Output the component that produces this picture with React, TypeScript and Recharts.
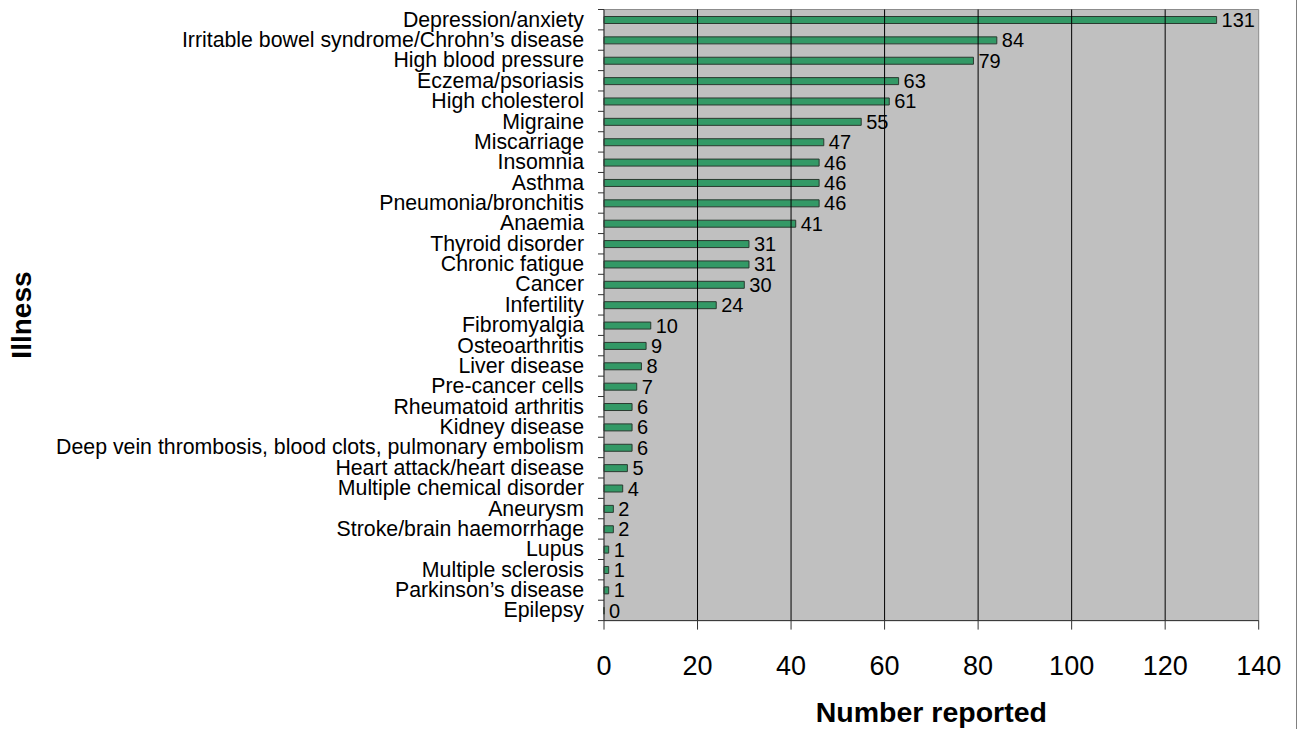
import React from "react"
import {
  BarChart,
  Bar,
  XAxis,
  YAxis,
  ReferenceArea,
  ReferenceLine,
  LabelList,
} from "recharts"

const illnesses = [
  "Depression/anxiety",
  "Irritable bowel syndrome/Chrohn\u2019s disease",
  "High blood pressure",
  "Eczema/psoriasis",
  "High cholesterol",
  "Migraine",
  "Miscarriage",
  "Insomnia",
  "Asthma",
  "Pneumonia/bronchitis",
  "Anaemia",
  "Thyroid disorder",
  "Chronic fatigue",
  "Cancer",
  "Infertility",
  "Fibromyalgia",
  "Osteoarthritis",
  "Liver disease",
  "Pre-cancer cells",
  "Rheumatoid arthritis",
  "Kidney disease",
  "Deep vein thrombosis, blood clots, pulmonary embolism",
  "Heart attack/heart disease",
  "Multiple chemical disorder",
  "Aneurysm",
  "Stroke/brain haemorrhage",
  "Lupus",
  "Multiple sclerosis",
  "Parkinson\u2019s disease",
  "Epilepsy",
]

const reported = [
  131, 84, 79, 63, 61, 55, 47, 46, 46, 46, 41, 31, 31, 30, 24, 10, 9, 8, 7, 6,
  6, 6, 5, 4, 2, 2, 1, 1, 1, 0,
]

const xTicks = [0, 20, 40, 60, 80, 100, 120, 140]

const data = illnesses.map((name, i) => ({ name, count: reported[i] }))

const W = 1299
const H = 729
const TOP = 9.5
const BOTTOM = 108.4
const FONT = '"Liberation Sans", Arial, sans-serif'
const band = (H - TOP - BOTTOM) / illnesses.length

function YTick(props: any) {
  const { x, y, payload, index } = props
  const axisX = x + 8
  return (
    <g>
      <text
        x={axisX - 20}
        y={y}
        dy={7}
        textAnchor="end"
        fontSize={21.3}
        fontFamily={FONT}
        fill="#000"
      >
        {payload.value}
      </text>
      <line x1={axisX - 6} x2={axisX} y1={y - band / 2} y2={y - band / 2} stroke="#333" />
      {index === illnesses.length - 1 && (
        <line x1={axisX - 6} x2={axisX} y1={y + band / 2} y2={y + band / 2} stroke="#333" />
      )}
    </g>
  )
}

function XTick(props: any) {
  const { x, y, payload } = props
  return (
    <text x={x} y={y + 43} textAnchor="middle" fontSize={27} fontFamily={FONT} fill="#000">
      {payload.value}
    </text>
  )
}

function YTitle(props: any) {
  const vb = props.viewBox || { x: 0, y: 0, height: 0 }
  const cx = 21
  const cy = vb.y + vb.height / 2
  return (
    <text
      x={cx}
      y={cy}
      dy={10}
      textAnchor="middle"
      transform={`rotate(-90, ${cx}, ${cy})`}
      fontSize={28}
      fontWeight="bold"
      fontFamily={FONT}
      fill="#000"
    >
      Illness
    </text>
  )
}

function ValueLabel(props: any) {
  const { x, y, width, height, value } = props
  const w = Number(width || 0) < 0.5 ? 0 : Number(width)
  return (
    <text
      x={Number(x) + w + 5}
      y={Number(y) + Number(height) / 2}
      dy={7}
      fontSize={20}
      fontFamily={FONT}
      fill="#000"
    >
      {value}
    </text>
  )
}

export default function App() {
  return (
    <div
      style={{
        position: "absolute",
        left: 0,
        top: 0,
        width: W,
        height: H,
        background: "#fff",
      }}
    >
      <div
        style={{
          position: "absolute",
          left: 1296,
          top: 0,
          width: 1,
          height: H,
          background: "#808080",
        }}
      />
      <BarChart
        width={W}
        height={H}
        data={data}
        layout="vertical"
        margin={{ top: TOP, right: 40.3, bottom: 0, left: 0 }}
        barCategoryGap={0}
      >
        <ReferenceArea
          x1={0}
          x2={140}
          fill="#c0c0c0"
          fillOpacity={1}
          stroke="#8c8c8c"
          ifOverflow="extendDomain"
        />
        {xTicks.slice(1, -1).map((t) => (
          <ReferenceLine key={t} x={t} stroke="#000" strokeWidth={1} />
        ))}
        <XAxis
          type="number"
          domain={[0, 140]}
          ticks={xTicks}
          height={BOTTOM}
          axisLine={{ stroke: "#333" }}
          tickLine={{ stroke: "#333" }}
          tickSize={9}
          tick={<XTick />}
          label={{
            value: "Number reported",
            position: "insideBottom",
            offset: 7,
            fontSize: 28.5,
            fontWeight: "bold",
            fontFamily: FONT,
            fill: "#000",
          }}
        />
        <YAxis
          type="category"
          dataKey="name"
          width={604}
          interval={0}
          axisLine={{ stroke: "#333" }}
          tickLine={false}
          tick={<YTick />}
          label={<YTitle />}
        />
        <Bar
          dataKey="count"
          fill="#339966"
          stroke="#2a3a30"
          strokeWidth={1}
          barSize={7}
          minPointSize={0.01}
          isAnimationActive={false}
        >
          <LabelList dataKey="count" content={<ValueLabel />} />
        </Bar>
      </BarChart>
    </div>
  )
}
